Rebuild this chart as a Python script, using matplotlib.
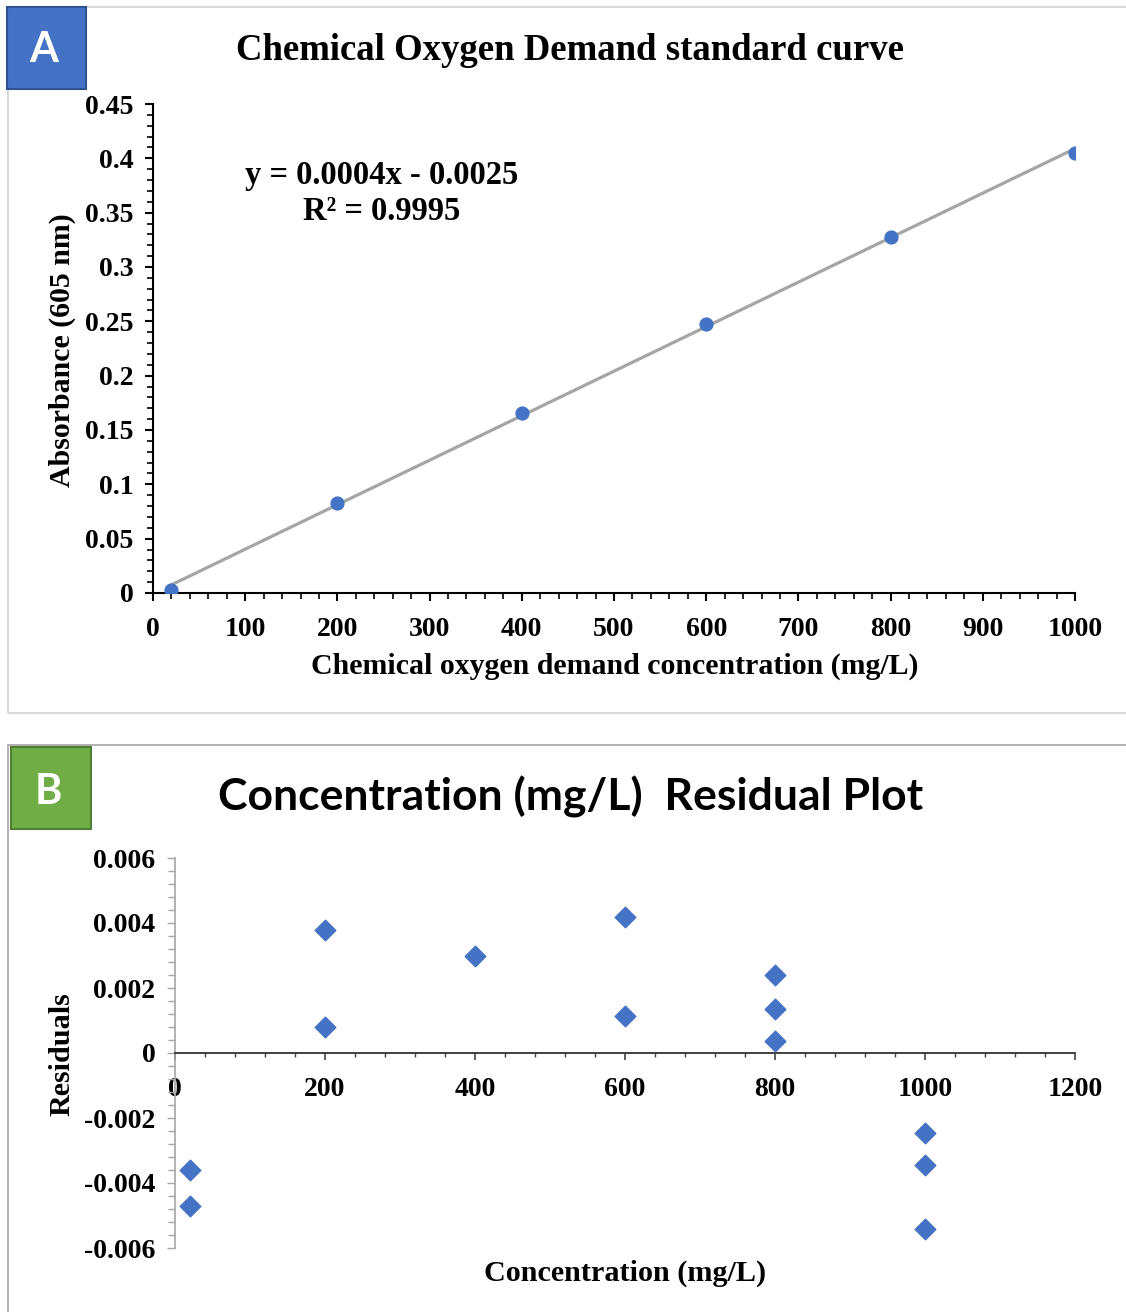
import numpy as np
import matplotlib
matplotlib.use("Agg")
import matplotlib.pyplot as plt
from matplotlib.patches import Rectangle
from matplotlib.ticker import MultipleLocator

# panel A: COD standard curve
cod_conc = [20, 200, 400, 600, 800, 1000]
absorbance = [0.003, 0.083, 0.166, 0.248, 0.328, 0.405]

# panel B: residuals
resid_conc = [20, 20, 200, 200, 400, 600, 600, 800, 800, 800, 1000, 1000, 1000]
residuals = [-0.0036, -0.0047, 0.0038, 0.0008, 0.0030, 0.0042, 0.00115,
             0.0024, 0.00135, 0.00037, -0.00245, -0.00344, -0.0054]

W, H = 1126, 1312
SERIF = "Liberation Serif"
SANS = "Lato"
BLUE = "#4472C4"


def fx(px):
    return px / W


def fy(py):
    return 1 - py / H


def main():
    fig = plt.figure(figsize=(W / 100, H / 100), dpi=100)

    # chart frames
    fig.patches.append(Rectangle((fx(8), fy(713)), fx(1130) - fx(8), fy(7) - fy(713),
                                 transform=fig.transFigure, fill=False,
                                 edgecolor="#D9D9D9", lw=1.5))
    fig.patches.append(Rectangle((fx(8), fy(1330)), fx(1130) - fx(8), fy(745) - fy(1330),
                                 transform=fig.transFigure, fill=False,
                                 edgecolor="#A6A6A6", lw=1.2))

    # panel letters
    fig.patches.append(Rectangle((fx(7), fy(89)), fx(86) - fx(7), fy(7) - fy(89),
                                 transform=fig.transFigure, facecolor=BLUE,
                                 edgecolor="#2F528F", lw=1.5, zorder=5))
    fig.text(fx(44), fy(50), "A", color="white", fontsize=30, fontweight="bold",
             family=SANS, ha="center", va="center", zorder=6)
    fig.patches.append(Rectangle((fx(11), fy(829)), fx(91) - fx(11), fy(747) - fy(829),
                                 transform=fig.transFigure, facecolor="#70AD47",
                                 edgecolor="#507E32", lw=1.5, zorder=5))
    fig.text(fx(48), fy(792), "B", color="white", fontsize=30, fontweight="bold",
             family=SANS, ha="center", va="center", zorder=6)

    # ---- A ----
    ax = fig.add_axes([fx(153), fy(593), fx(1075) - fx(153), fy(104) - fy(593)])
    slope, icpt = np.polyfit(cod_conc, absorbance, 1)
    xs = np.array([cod_conc[0], cod_conc[-1]])
    ax.plot(xs, slope * xs + icpt, color="#A5A5A5", lw=2.3, zorder=2)
    ax.scatter(cod_conc, absorbance, s=85, color=BLUE, zorder=3)
    ax.set_xlim(0, 1000)
    ax.set_ylim(0, 0.45)
    ax.xaxis.set_major_locator(MultipleLocator(100))
    ax.xaxis.set_minor_locator(MultipleLocator(20))
    ax.set_yticks(np.arange(0, 0.46, 0.05))
    ax.set_yticklabels(["0", "0.05", "0.1", "0.15", "0.2", "0.25", "0.3", "0.35", "0.4", "0.45"])
    ax.yaxis.set_minor_locator(MultipleLocator(0.01))
    for s in ["top", "right"]:
        ax.spines[s].set_visible(False)
    for s in ["left", "bottom"]:
        ax.spines[s].set_linewidth(1.5)
    ax.tick_params(which="major", length=6, width=1.5, labelsize=20, pad=8)
    ax.tick_params(axis="x", which="major", pad=11)
    ax.tick_params(which="minor", length=4, width=1.2)
    for lab in ax.get_xticklabels() + ax.get_yticklabels():
        lab.set_family(SERIF)
        lab.set_fontweight("bold")
    fig.text(fx(615), fy(666), "Chemical oxygen demand concentration (mg/L)", family=SERIF,
             fontweight="bold", fontsize=21.5, ha="center", va="center")
    fig.text(fx(62), fy(350), "Absorbance (605 nm)", family=SERIF, fontweight="bold",
             fontsize=21.5, ha="center", va="center", rotation=90)
    ax.text(248, 0.384, "y = 0.0004x - 0.0025", family=SERIF, fontweight="bold",
            fontsize=23.5, ha="center", va="center")
    ax.text(248, 0.351, "R² = 0.9995", family=SERIF, fontweight="bold",
            fontsize=23.5, ha="center", va="center")
    fig.text(fx(570), fy(50), "Chemical Oxygen Demand standard curve", family=SERIF,
             fontweight="bold", fontsize=26.5, ha="center", va="center")

    # ---- B ----
    bx = fig.add_axes([fx(175), fy(1248), fx(1075) - fx(175), fy(858) - fy(1248)])
    bx.scatter(resid_conc, residuals, marker="D", s=110, color=BLUE, zorder=3)
    bx.set_xlim(0, 1200)
    bx.set_ylim(-0.006, 0.006)
    bx.xaxis.set_major_locator(MultipleLocator(200))
    bx.xaxis.set_minor_locator(MultipleLocator(40))
    bx.set_yticks([-0.006, -0.004, -0.002, 0, 0.002, 0.004, 0.006])
    bx.set_yticklabels(["-0.006", "-0.004", "-0.002", "0", "0.002", "0.004", "0.006"])
    bx.yaxis.set_minor_locator(MultipleLocator(0.0004))
    bx.spines["top"].set_visible(False)
    bx.spines["right"].set_visible(False)
    bx.spines["bottom"].set_position(("data", 0))
    bx.spines["bottom"].set_color("#404040")
    bx.spines["bottom"].set_linewidth(1.4)
    bx.spines["left"].set_color("#A6A6A6")
    bx.spines["left"].set_linewidth(1.2)
    bx.tick_params(axis="x", which="major", length=5, width=1.2, color="#404040",
                   labelsize=20, pad=12)
    bx.tick_params(axis="x", which="minor", length=3, width=1.0, color="#404040")
    bx.tick_params(axis="y", which="major", length=6, width=1.0, color="#A6A6A6",
                   labelsize=20, pad=8)
    bx.tick_params(axis="y", which="minor", length=5, width=1.0, color="#A6A6A6")
    for lab in bx.get_xticklabels() + bx.get_yticklabels():
        lab.set_family(SERIF)
        lab.set_fontweight("bold")
    fig.text(fx(625), fy(1273), "Concentration (mg/L)", family=SERIF, fontweight="bold",
             fontsize=21.7, ha="center", va="center")
    fig.text(fx(62), fy(1054), "Residuals", family=SERIF, fontweight="bold",
             fontsize=21.7, ha="center", va="center", rotation=90)
    fig.text(fx(571), fy(797), "Concentration (mg/L)  Residual Plot", family=SANS,
             fontweight="bold", fontsize=32, ha="center", va="center")

    fig.savefig("out.png", dpi=100)


if __name__ == "__main__":
    main()
